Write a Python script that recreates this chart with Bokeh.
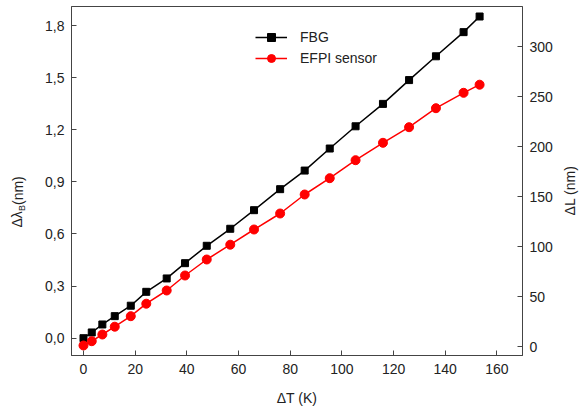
import math
from bokeh.plotting import figure
from bokeh.models import (Range1d, LinearAxis, FixedTicker, CustomJSTickFormatter,
                          Legend, LegendItem, Label)
from bokeh.embed import file_html
from bokeh.resources import INLINE

# ---- data ----
delta_T = [0, 3.2, 7.3, 12.1, 18.3, 24.3, 32.2, 39.3, 47.7, 56.8,
           66.0, 76.1, 85.6, 95.3, 105.3, 115.9, 126.0, 136.4, 147.1, 153.3]
fbg_shift = [0.0, 0.033, 0.079, 0.127, 0.187, 0.267, 0.344, 0.432, 0.532, 0.630,
             0.737, 0.858, 0.965, 1.092, 1.220, 1.349, 1.486, 1.623, 1.762, 1.852]
efpi_dl = [1, 5.3, 12, 19.8, 30.3, 42.8, 56, 71, 87, 101.8,
           117, 133, 152, 168.3, 186.3, 203.7, 219.3, 238.3, 253.7, 261.8]
x_ticks = [0, 20, 40, 60, 80, 100, 120, 140, 160]
left_ticks = [0.0, 0.3, 0.6, 0.9, 1.2, 1.5, 1.8]
right_ticks = [0, 50, 100, 150, 200, 250, 300]

FONT = "Liberation Sans"
FS = "14px"
AX = "#444444"
TXT = "#222222"

p = figure(frame_width=451, frame_height=349, width=583, height=410,
           min_border_left=71, min_border_right=61, min_border_top=6, min_border_bottom=55,
           x_range=Range1d(-4.64, 169.9), y_range=Range1d(-0.0996, 1.9096),
           output_backend="svg", toolbar_location=None, x_axis_location="below")
p.extra_y_ranges = {"r": Range1d(-9, 340)}
p.xgrid.visible = False
p.ygrid.visible = False
p.outline_line_color = AX
p.outline_line_width = 1
p.background_fill_color = "white"
p.border_fill_color = "white"

def style_axis(ax):
    ax.axis_line_color = AX
    ax.major_tick_line_color = AX
    ax.major_tick_in = 5
    ax.major_tick_out = 0
    ax.minor_tick_line_color = None
    ax.major_label_text_font = FONT
    ax.major_label_text_font_size = FS
    ax.major_label_text_color = TXT
    ax.major_label_standoff = 7

xa = p.xaxis[0]
style_axis(xa)
xa.ticker = FixedTicker(ticks=x_ticks)
xa.major_label_standoff = 8
xa.axis_label = "ΔT (K)"
xa.axis_label_text_font = FONT
xa.axis_label_text_font_size = FS
xa.axis_label_text_font_style = "normal"
xa.axis_label_text_color = TXT
xa.axis_label_standoff = 13

ya = p.yaxis[0]
style_axis(ya)
ya.ticker = FixedTicker(ticks=left_ticks)
ya.formatter = CustomJSTickFormatter(code="return tick.toFixed(1).replace('.', ',');")

ra = LinearAxis(y_range_name="r")
style_axis(ra)
ra.ticker = FixedTicker(ticks=right_ticks)
p.add_layout(ra, "right")

# series
l1 = p.line(delta_T, fbg_shift, line_color="black", line_width=1.5)
s1 = p.scatter(delta_T, fbg_shift, marker="square", size=7, fill_color="black", line_color="black")
l2 = p.line(delta_T, efpi_dl, line_color="red", line_width=1.5, y_range_name="r")
s2 = p.scatter(delta_T, efpi_dl, marker="circle", size=9, fill_color="red", line_color="red",
               y_range_name="r")

legend = Legend(items=[LegendItem(label="FBG", renderers=[l1, s1]),
                       LegendItem(label="EFPI sensor", renderers=[l2, s2])],
                location=(184, 287), padding=0, margin=0, spacing=1,
                glyph_width=32, glyph_height=20, label_height=20, label_standoff=13,
                label_text_font=FONT, label_text_font_size=FS, label_text_color=TXT,
                border_line_alpha=0, background_fill_alpha=0)
p.add_layout(legend, "center")

# left axis title: Δλ_B(nm)  (each label sits in its own side panel)
lab_kw = dict(x_units="screen", y_units="screen", angle=math.pi / 2,
              text_font=FONT, text_color=TXT, text_align="left", text_baseline="middle")
p.add_layout(Label(x=-10, y=128, text="Δλ", text_font_size=FS, **lab_kw), "left")
p.add_layout(Label(x=5, y=144.5, text="B", text_font_size="9px", **lab_kw), "left")
p.add_layout(Label(x=17, y=150.5, text="(nm)", text_font_size=FS, **lab_kw), "left")

# right axis title
p.add_layout(Label(x=14, y=165, text="ΔL (nm)", x_units="screen", y_units="screen",
                   angle=math.pi / 2, text_font=FONT, text_font_size=FS, text_color=TXT,
                   text_align="center", text_baseline="middle"), "right")

open("out.html", "w").write(file_html(p, INLINE))
